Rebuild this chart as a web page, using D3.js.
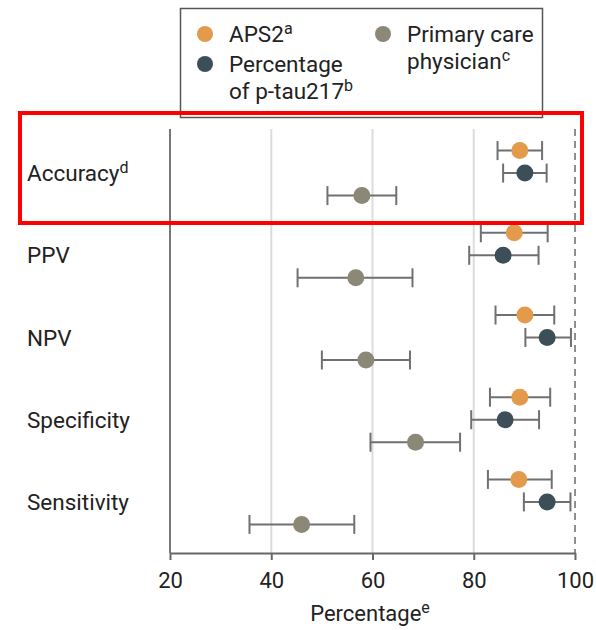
<!DOCTYPE html>
<html>
<head>
<meta charset="utf-8">
<script src="https://cdn.jsdelivr.net/npm/d3@7"></script>
<style>
  body { margin: 0; background: #fff; }
  svg { display: block; font-family: Roboto, "Noto Sans", sans-serif; }
</style>
</head>
<body>
<svg id="chart"></svg>
<script>
const categories = ["Accuracy", "PPV", "NPV", "Specificity", "Sensitivity"];
const categorySup = ["d", "", "", "", ""];

const aps2 = [89.1, 88.0, 90.1, 89.1, 88.9];
const aps2Low = [84.7, 81.4, 84.3, 83.2, 82.8];
const aps2High = [93.5, 94.6, 95.9, 95.1, 95.4];

const ptau = [90.1, 85.8, 94.5, 86.2, 94.5];
const ptauLow = [85.8, 79.1, 90.2, 79.5, 89.9];
const ptauHigh = [94.4, 92.8, 99.2, 92.9, 99.1];

const pcp = [57.9, 56.7, 58.7, 68.5, 46.0];
const pcpLow = [51.1, 45.2, 50.0, 59.6, 35.7];
const pcpHigh = [64.7, 67.9, 67.4, 77.3, 56.4];

const xTicks = [20, 40, 60, 80, 100];

const series = [
  { key: "aps2", color: "#E39B4B", val: aps2, lo: aps2Low, hi: aps2High },
  { key: "ptau", color: "#3C4E57", val: ptau, lo: ptauLow, hi: ptauHigh },
  { key: "pcp", color: "#8C8878", val: pcp, lo: pcpLow, hi: pcpHigh }
];

const width = 596, height = 630;
const svg = d3.select("#chart").attr("width", width).attr("height", height);

const x = d3.scaleLinear().domain([20, 100]).range([170, 575]);
const y = d3.scaleBand().domain(categories).range([132, 543]);
const offset = d3.scalePoint().domain(series.map(s => s.key)).range([-22.5, 22.5]);
const plotTop = 129, axisY = 553;

// grid lines
svg.append("g").selectAll("line")
  .data([40, 60, 80])
  .join("line")
  .attr("x1", d => x(d)).attr("x2", d => x(d))
  .attr("y1", plotTop).attr("y2", axisY)
  .attr("stroke", "#dcdcdc").attr("stroke-width", 2);

// dashed 100 line
svg.append("line")
  .attr("x1", x(100)).attr("x2", x(100))
  .attr("y1", plotTop).attr("y2", axisY)
  .attr("stroke", "#8f8f8f").attr("stroke-width", 2)
  .attr("stroke-dasharray", "7,5");

// left axis line
svg.append("line")
  .attr("x1", x(20)).attr("x2", x(20))
  .attr("y1", plotTop).attr("y2", axisY)
  .attr("stroke", "#777").attr("stroke-width", 2);

// bottom axis
const xAxis = svg.append("g")
  .attr("transform", `translate(0,${axisY})`)
  .call(d3.axisBottom(x).tickValues(xTicks).tickSize(7).tickPadding(12).tickSizeOuter(0));
xAxis.select(".domain").attr("stroke", "#666").attr("stroke-width", 2);
xAxis.selectAll(".tick line").attr("stroke", "#666").attr("stroke-width", 2);
xAxis.selectAll(".tick text").attr("font-size", 22).attr("fill", "#222")
  .attr("font-family", "Roboto, sans-serif");

// axis title
const title = svg.append("text")
  .attr("x", 370).attr("y", 621)
  .attr("text-anchor", "middle").attr("font-size", 22).attr("fill", "#222");
title.append("tspan").text("Percentage");
title.append("tspan").text("e").attr("font-size", 16).attr("dy", -8);

// category labels
const labels = svg.append("g").selectAll("text")
  .data(categories)
  .join("text")
  .attr("x", 27)
  .attr("y", d => y(d) + y.bandwidth() / 2 + 8)
  .attr("font-size", 22.5).attr("fill", "#222");
labels.append("tspan").text(d => d);
labels.append("tspan").text((d, i) => categorySup[i])
  .attr("font-size", 16).attr("dy", -8);

// error bars and points
series.forEach(s => {
  const g = svg.append("g");
  const cy = i => y(categories[i]) + y.bandwidth() / 2 + offset(s.key);
  const idx = d3.range(categories.length);
  g.selectAll(".whisker").data(idx).join("line")
    .attr("x1", i => x(s.lo[i])).attr("x2", i => x(s.hi[i]))
    .attr("y1", cy).attr("y2", cy)
    .attr("stroke", "#707070").attr("stroke-width", 2);
  g.selectAll(".capl").data(idx).join("line")
    .attr("x1", i => x(s.lo[i])).attr("x2", i => x(s.lo[i]))
    .attr("y1", i => cy(i) - 9.5).attr("y2", i => cy(i) + 9.5)
    .attr("stroke", "#707070").attr("stroke-width", 2);
  g.selectAll(".caph").data(idx).join("line")
    .attr("x1", i => x(s.hi[i])).attr("x2", i => x(s.hi[i]))
    .attr("y1", i => cy(i) - 9.5).attr("y2", i => cy(i) + 9.5)
    .attr("stroke", "#707070").attr("stroke-width", 2);
  g.selectAll("circle").data(idx).join("circle")
    .attr("cx", i => x(s.val[i])).attr("cy", cy)
    .attr("r", 8.5).attr("fill", s.color);
});

// legend
const legend = svg.append("g");
legend.append("rect")
  .attr("x", 180.5).attr("y", 8.5).attr("width", 362).attr("height", 109)
  .attr("fill", "#fff").attr("stroke", "#555").attr("stroke-width", 1.5);
const legendItems = [
  { color: series[0].color, cx: 205, cy: 34, lines: [["APS2", "a"]] },
  { color: series[1].color, cx: 205, cy: 64, lines: [["Percentage", ""], ["of p-tau217", "b"]] },
  { color: series[2].color, cx: 383, cy: 34, lines: [["Primary care", ""], ["physician", "c"]] }
];
legendItems.forEach(it => {
  legend.append("circle").attr("cx", it.cx).attr("cy", it.cy).attr("r", 8).attr("fill", it.color);
  it.lines.forEach((ln, j) => {
    const t = legend.append("text")
      .attr("x", it.cx + 24).attr("y", it.cy + 8 + j * 27)
      .attr("font-size", 22.5).attr("fill", "#222");
    t.append("tspan").text(ln[0]);
    if (ln[1]) t.append("tspan").text(ln[1]).attr("font-size", 16).attr("dy", -8);
  });
});

// red highlight box
svg.append("rect")
  .attr("x", 20).attr("y", 113).attr("width", 562).attr("height", 110)
  .attr("fill", "none").attr("stroke", "#ff0000").attr("stroke-width", 4);
</script>
</body>
</html>
